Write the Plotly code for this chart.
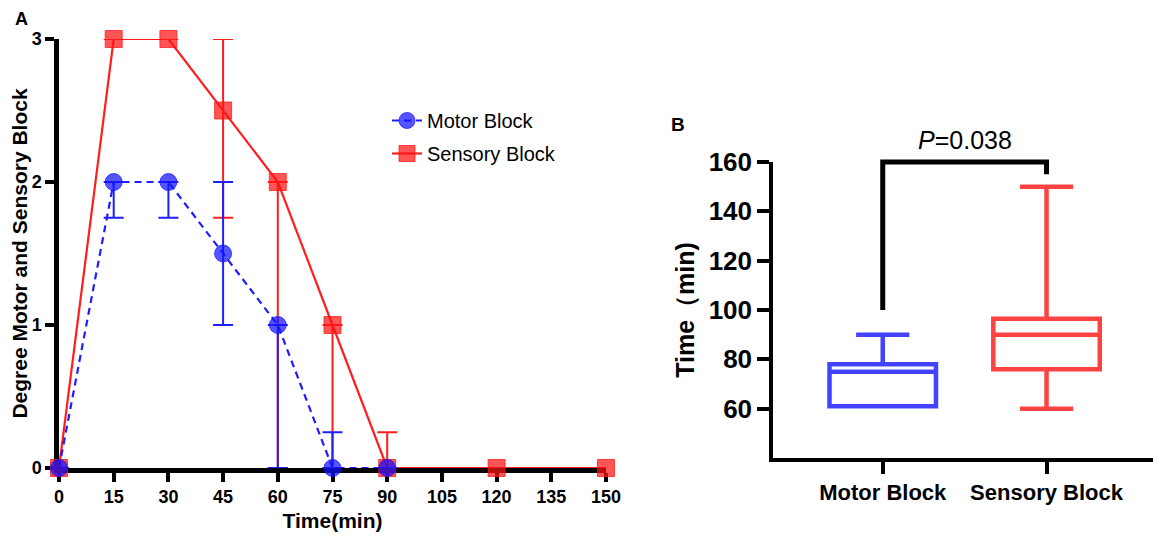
import plotly.graph_objects as go

# ---------------- Data: panel A ----------------
time_motor = [0, 15, 30, 45, 60, 75, 90]
motor_block = [0, 2, 2, 1.5, 1, 0, 0]
motor_err_up = [0, 0, 0, 0.5, 0, 0.25, 0]
motor_err_down = [0, 0.25, 0.25, 0.5, 1, 0, 0]

time_sensory = [0, 15, 30, 45, 60, 75, 90, 120, 150]
sensory_block = [0, 3, 3, 2.5, 2, 1, 0, 0, 0]
sensory_err_up = [0, 0, 0, 0.5, 0, 0, 0.25, 0, 0]
sensory_err_down = [0, 0, 0, 0.75, 2, 1, 0, 0, 0]

x_ticks_a = [0, 15, 30, 45, 60, 75, 90, 105, 120, 135, 150]
y_ticks_a = [0, 1, 2, 3]

# ---------------- Data: panel B ----------------
groups = ["Motor Block", "Sensory Block"]
box_q1 = [61, 76]
box_median = [75, 90]
box_q3 = [78, 96.5]
box_low = [61, 60]
box_high = [90, 150]
y_ticks_b = [60, 80, 100, 120, 140, 160]

bracket_x = ["Motor Block", "Motor Block", "Sensory Block", "Sensory Block"]
bracket_y = [100, 160, 160, 155]
p_text = "<i>P</i>=0.038"

FONT = "Arial, Liberation Sans, sans-serif"
BLUE = "rgba(20,20,255,0.72)"
BLUE_LINE = "rgb(30,30,255)"
RED = "rgba(255,20,20,0.72)"
RED_LINE = "rgb(255,30,30)"

# page layout helpers (the page body has an 8px margin)
OFF = 8
FW, FH = 1170 - OFF, 543 - OFF


def px(x):
    return (x - OFF) / FW


def py(y):
    return 1 - (y - OFF) / FH


fig = go.Figure()

# Sensory (drawn first so motor sits on top)
fig.add_trace(go.Scatter(
    x=time_sensory, y=sensory_block, name="Sensory Block",
    mode="lines+markers", legendrank=2, legendgroup="s",
    line=dict(color=RED_LINE, width=2.2),
    marker=dict(symbol="square", size=17, color=RED, line=dict(color=RED, width=1)),
    error_y=dict(type="data", symmetric=False, array=sensory_err_up,
                 arrayminus=sensory_err_down, color=RED_LINE, thickness=2, width=10),
    cliponaxis=False, xaxis="x", yaxis="y",
))
fig.add_trace(go.Scatter(
    x=time_motor, y=motor_block, name="Motor Block",
    mode="lines+markers", legendrank=1, legendgroup="m",
    line=dict(color=BLUE_LINE, width=2.2, dash="7px,5px"),
    marker=dict(symbol="circle", size=17, color=BLUE, line=dict(color=BLUE, width=1)),
    error_y=dict(type="data", symmetric=False, array=motor_err_up,
                 arrayminus=motor_err_down, color=BLUE_LINE, thickness=2, width=10),
    cliponaxis=False, xaxis="x", yaxis="y",
))

# Panel B boxes (precomputed statistics)
box_colors = ["rgba(20,20,255,0.8)", "rgba(255,20,20,0.8)"]
for i, g in enumerate(groups):
    fig.add_trace(go.Box(
        x=[g], q1=[box_q1[i]], median=[box_median[i]], q3=[box_q3[i]],
        lowerfence=[box_low[i]], upperfence=[box_high[i]],
        orientation="v",
        name=g, showlegend=False, width=0.65, whiskerwidth=0.5,
        line=dict(color=box_colors[i], width=4.5),
        fillcolor="rgba(255,255,255,0)",
        xaxis="x2", yaxis="y2", boxpoints=False,
    ))

# Significance bracket (on an invisible y axis with the same scale, so it is not clipped)
B_BOT, B_TOP, B_EXT = py(458), py(162), py(110)
yr_lo, yr_hi = 40, 160
y3_hi = yr_lo + (yr_hi - yr_lo) * (B_EXT - B_BOT) / (B_TOP - B_BOT)
fig.add_trace(go.Scatter(
    x=bracket_x, y=bracket_y, mode="lines", showlegend=False,
    line=dict(color="black", width=5), xaxis="x2", yaxis="y3", hoverinfo="skip",
))

axis_common = dict(showgrid=False, zeroline=False, linecolor="black", showline=True,
                   ticks="outside", tickcolor="black", mirror=False, automargin=False)

fig.update_layout(
    width=FW, height=FH,
    margin=dict(l=0, r=0, t=0, b=0, autoexpand=False),
    paper_bgcolor="white", plot_bgcolor="rgba(0,0,0,0)",
    font=dict(family=FONT, color="black"),
    showlegend=True,
    legend=dict(x=px(387), y=py(101), xanchor="left", yanchor="top",
                font=dict(size=20, family=FONT), bgcolor="rgba(0,0,0,0)",
                traceorder="grouped", tracegroupgap=4, itemwidth=30),
    xaxis=dict(domain=[px(59), px(606)], range=[0, 150], tickvals=x_ticks_a,
               ticklen=9, tickwidth=3.5, linewidth=4.5, layer="below traces",
               tickfont=dict(size=18, weight="bold"),
               title=dict(text="Time(min)", font=dict(size=21, weight="bold"), standoff=8),
               anchor="y", **axis_common),
    yaxis=dict(domain=[py(468), py(39)], range=[0, 3], tickvals=y_ticks_a,
               ticklen=9, tickwidth=3.5, linewidth=4.5, layer="below traces",
               tickfont=dict(size=18, weight="bold"),
               title=dict(text="Degree Motor and Sensory Block",
                          font=dict(size=21, weight="bold"), standoff=6),
               anchor="x", **axis_common),
    xaxis2=dict(domain=[px(773), px(1153)], type="category", categoryorder="array",
                categoryarray=groups, range=[-0.67, 1.65],
                ticklen=12, tickwidth=3.5, linewidth=3.5,
                tickfont=dict(size=22, weight="bold"), anchor="y2", **axis_common),
    yaxis2=dict(domain=[B_BOT, B_TOP], range=[yr_lo, yr_hi], tickvals=y_ticks_b,
                ticklen=12, tickwidth=3.5, linewidth=3.5,
                tickfont=dict(size=26, weight="bold"),
                title=dict(text="Time（min)", font=dict(size=25, weight="bold"), standoff=8),
                anchor="x2", **axis_common),
    yaxis3=dict(domain=[B_BOT, B_EXT], range=[yr_lo, y3_hi], visible=False,
                anchor="x2", showgrid=False, zeroline=False, automargin=False),
    annotations=[
        dict(text="<b>A</b>", x=px(21), y=py(8), xref="paper", yref="paper",
             xanchor="center", yanchor="top", borderpad=0,
             showarrow=False, font=dict(size=18, family=FONT)),
        dict(text="<b>B</b>", x=px(678), y=py(125), xref="paper", yref="paper",
             xanchor="center", yanchor="middle",
             showarrow=False, font=dict(size=19, family=FONT)),
        dict(text=p_text, x=0.5, y=160, xref="x2", yref="y3", yanchor="bottom",
             yshift=6, showarrow=False, font=dict(size=25, family=FONT)),
    ],
)

fig.write_html("out.html")
